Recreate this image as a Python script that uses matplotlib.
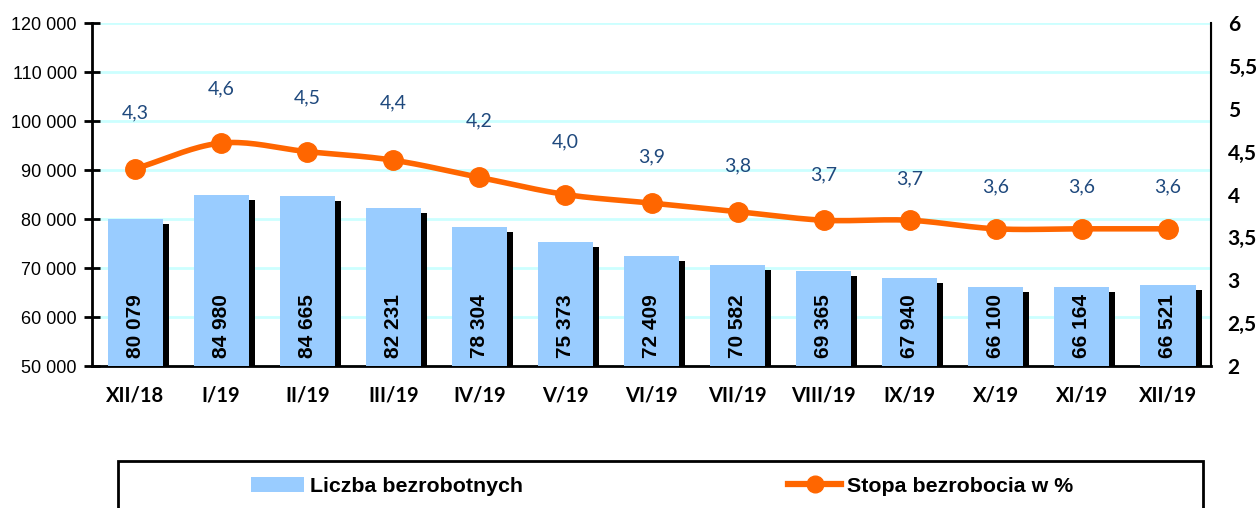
import numpy as np
import matplotlib
matplotlib.use("Agg")
import matplotlib.pyplot as plt
from matplotlib.patches import Rectangle, Patch
from matplotlib.lines import Line2D
from matplotlib.transforms import ScaledTranslation

MONTHS = ["XII/18", "I/19", "II/19", "III/19", "IV/19", "V/19", "VI/19",
          "VII/19", "VIII/19", "IX/19", "X/19", "XI/19", "XII/19"]
UNEMPLOYED = [80079, 84980, 84665, 82231, 78304, 75373, 72409,
              70582, 69365, 67940, 66100, 66164, 66521]
RATE = [4.3, 4.6, 4.5, 4.4, 4.2, 4.0, 3.9, 3.8, 3.7, 3.7, 3.6, 3.6, 3.6]

BLUE = "#99ccff"
ORANGE = "#ff6600"
LABEL_BLUE = "#1f497d"
GRID = "#ccffff"

# label offsets above markers (points) - matches the Excel placement
LABEL_DY = [40, 39, 39, 41, 41, 38, 33, 33, 33, 30, 30, 30, 30]


def thin_space(v):
    return f"{v:,.0f}".replace(",", " ")


def smooth(x, y, n=20):
    """Catmull-Rom curve through the points (Excel 'smoothed line' look)."""
    x = np.asarray(x, float)
    y = np.asarray(y, float)
    px = np.concatenate([[2 * x[0] - x[1]], x, [2 * x[-1] - x[-2]]])
    py = np.concatenate([[2 * y[0] - y[1]], y, [2 * y[-1] - y[-2]]])
    xs, ys = [], []
    t = np.linspace(0, 1, n, endpoint=False)
    for i in range(1, len(px) - 2):
        for arr, out in ((px, xs), (py, ys)):
            p0, p1, p2, p3 = arr[i - 1], arr[i], arr[i + 1], arr[i + 2]
            out.extend(0.5 * ((2 * p1) + (-p0 + p2) * t
                              + (2 * p0 - 5 * p1 + 4 * p2 - p3) * t ** 2
                              + (-p0 + 3 * p1 - 3 * p2 + p3) * t ** 3))
    xs.append(x[-1])
    ys.append(y[-1])
    return xs, ys


fig = plt.figure(figsize=(12.57, 5.08), dpi=100)
ax = fig.add_axes([0.0732, 0.2795, 0.8902, 0.6752])
ax2 = ax.twinx()

xpos = np.arange(len(MONTHS))
w = 0.64

# black "shadow" behind each bar, shifted right/down a few pixels
shadow = ax.bar(xpos, UNEMPLOYED, w, color="black", zorder=2)
off = ScaledTranslation(6 / 100, -5 / 100, fig.dpi_scale_trans)
for b in shadow:
    b.set_transform(ax.transData + off)
ax.bar(xpos, UNEMPLOYED, w, color=BLUE, zorder=3)

for x, v in zip(xpos, UNEMPLOYED):
    ax.text(x, 51700, thin_space(v), rotation=90, ha="center", va="bottom",
            fontsize=15, fontweight="bold", family="Liberation Sans", zorder=4)

ax.set_ylim(50000, 120000)
ax.set_xlim(-0.5, len(MONTHS) - 0.5)
ax.set_yticks(range(50000, 120001, 10000))
ax.set_yticklabels([thin_space(v) for v in range(50000, 120001, 10000)],
                   family="Liberation Sans", fontsize=13)
ax.yaxis.grid(True, color=GRID, lw=2)
ax.set_axisbelow(True)
ax.tick_params(axis="y", direction="inout", length=12, width=2, pad=5)
ax.set_xticks(xpos)
ax.set_xticklabels(MONTHS, family="Lato", fontweight="bold", fontsize=14.5)
ax.tick_params(axis="x", length=0, pad=14)

for s in ("left", "bottom"):
    ax.spines[s].set_linewidth(2)
ax.spines["top"].set_visible(False)
ax2.spines["top"].set_visible(False)
ax2.spines["right"].set_linewidth(1.5)
ax2.spines["left"].set_visible(False)
ax2.spines["bottom"].set_visible(False)

# unemployment rate line
lx, ly = smooth(xpos, RATE)
ax2.plot(lx, ly, color=ORANGE, lw=4, zorder=5, solid_capstyle="round")
ax2.plot(xpos, RATE, "o", color=ORANGE, ms=14, zorder=6)
for x, v, dy in zip(xpos, RATE, LABEL_DY):
    ax2.annotate(f"{v:.1f}".replace(".", ","), (x, v), xytext=(0, dy),
                 textcoords="offset points", ha="center", va="center",
                 color=LABEL_BLUE, fontsize=14, family="Lato")

ax2.set_ylim(2, 6)
ax2.set_yticks(np.arange(2, 6.01, 0.5))
ax2.set_yticklabels([f"{v:g}".replace(".", ",") for v in np.arange(2, 6.01, 0.5)],
                    family="Lato", fontweight="bold", fontsize=15)
ax2.tick_params(axis="y", length=0, pad=12)

# legend box
fig.patches.append(Rectangle((118 / 1257, -0.05), (1203 - 118) / 1257,
                             1 - 461 / 508 + 0.05, transform=fig.transFigure,
                             fill=False, edgecolor="black", lw=2))
handles = [Patch(facecolor=BLUE, label="Liczba bezrobotnych"),
           Line2D([], [], color=ORANGE, lw=4.5, marker="o", ms=12,
                  label="Stopa bezrobocia w %")]
fig.legend(handles=handles, loc="center", bbox_to_anchor=(0.5266, 1 - 486 / 508),
           ncol=2, frameon=False, columnspacing=12.4, handlelength=2.5,
           handletextpad=0.25, borderpad=0,
           prop={"family": "Liberation Sans", "weight": "bold", "size": 15.4})

fig.savefig("out.png", dpi=100)
